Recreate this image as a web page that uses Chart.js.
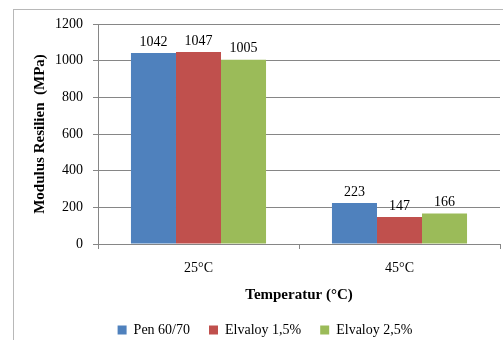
<!DOCTYPE html>
<html>
<head>
<meta charset="utf-8">
<script src="https://cdn.jsdelivr.net/npm/chart.js@4/dist/chart.umd.min.js"></script>
<style>
  html, body { margin: 0; padding: 0; background: #fff; overflow: hidden; }
  #wrap { position: relative; width: 503px; height: 340px; overflow: hidden; }
  #frame { position: absolute; left: 13px; top: 9px; width: 600px; height: 400px; border: 1px solid #b8b8b8; box-sizing: border-box; }
  canvas { position: absolute; left: 0; top: 0; }
</style>
</head>
<body>
<div id="wrap">
  <div id="frame"></div>
  <canvas id="c" width="503" height="347"></canvas>
</div>
<script>
// Resilient modulus per binder type at two test temperatures
const categories = ['25°C', '45°C'];
const seriesNames = ['Pen 60/70', 'Elvaloy 1,5%', 'Elvaloy 2,5%'];
const pen6070 = [1042, 223];
const elvaloy15 = [1047, 147];
const elvaloy25 = [1005, 166];
const yTicks = [0, 200, 400, 600, 800, 1000, 1200];

const colors = ['#4F81BD', '#C0504D', '#9BBB59'];
const serif = "'Liberation Serif', 'Times New Roman', serif";

// Value labels above each bar
const valueLabels = {
  id: 'valueLabels',
  afterDatasetsDraw(chart) {
    const ctx = chart.ctx;
    ctx.save();
    ctx.font = '14px ' + serif;
    ctx.fillStyle = '#000';
    ctx.textAlign = 'center';
    ctx.textBaseline = 'bottom';
    chart.data.datasets.forEach((ds, i) => {
      chart.getDatasetMeta(i).data.forEach((bar, j) => {
        ctx.fillText(String(ds.data[j]), bar.x, bar.y - 4);
      });
    });
    ctx.restore();
  }
};

new Chart(document.getElementById('c'), {
  type: 'bar',
  data: {
    labels: categories,
    datasets: [pen6070, elvaloy15, elvaloy25].map((d, i) => ({
      label: seriesNames[i],
      data: d,
      backgroundColor: colors[i],
      borderWidth: 0,
      categoryPercentage: 0.672,
      barPercentage: 1.0
    }))
  },
  options: {
    responsive: false,
    animation: false,
    layout: { padding: { top: 24, right: 3, left: 30, bottom: 0 } },
    plugins: {
      tooltip: { enabled: false },
      legend: {
        position: 'bottom',
        labels: {
          font: { family: serif, size: 14 },
          color: '#000',
          boxWidth: 9,
          boxHeight: 9,
          padding: 19
        }
      }
    },
    scales: {
      x: {
        grid: { offset: true, drawOnChartArea: false, tickLength: 5, color: '#868686' },
        border: { color: '#868686' },
        ticks: { font: { family: serif, size: 14 }, color: '#000', padding: 11 },
        title: { display: true, text: 'Temperatur (°C)', font: { family: serif, size: 15, weight: 'bold' }, color: '#000', padding: { top: 4, bottom: 0 } },
        afterFit(scale) { scale.height = 60; }
      },
      y: {
        min: 0,
        max: 1200,
        afterBuildTicks(scale) { scale.ticks = yTicks.map(v => ({ value: v })); },
        grid: { color: '#868686', tickLength: 5 },
        border: { color: '#868686' },
        ticks: { font: { family: serif, size: 14 }, color: '#000', padding: 10, callback: v => String(v) },
        title: { display: true, text: 'Modulus Resilien  (MPa)', font: { family: serif, size: 15, weight: 'bold' }, color: '#000', padding: { top: 1, bottom: 0 } },
        afterFit(scale) { scale.width = 68; }
      }
    }
  },
  plugins: [valueLabels]
});
</script>
</body>
</html>
